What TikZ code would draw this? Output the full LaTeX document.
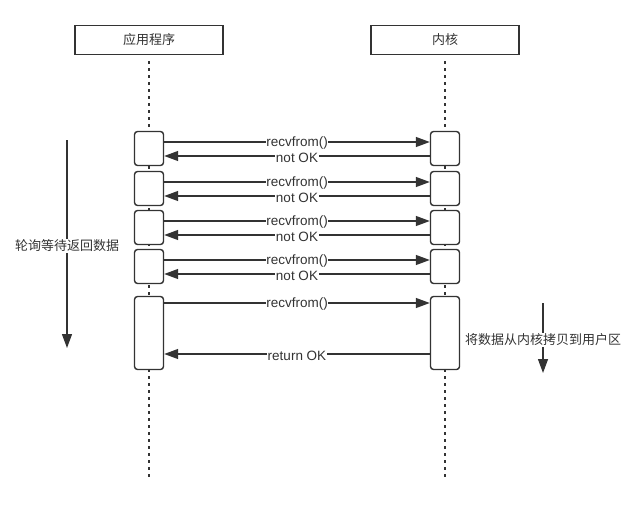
\documentclass[tikz,border=0pt]{standalone}
\usepackage{fontspec}
\setmainfont{Liberation Sans}
\newfontfamily\cjk{Noto Sans CJK SC}
\usetikzlibrary{arrows.meta}
\definecolor{ink}{HTML}{333333}
\tikzset{
  head/.style={draw=ink, line width=1.6pt, fill=white, minimum width=148pt, minimum height=29pt, inner sep=0pt, text=ink, font=\cjk\fontsize{13}{15}\selectfont},
  act/.style={draw=ink, line width=1.4pt, fill=white, rounded corners=3pt, minimum width=29pt, minimum height=34pt, inner sep=0pt},
  life/.style={draw=ink, line width=2.4pt, dash pattern=on 2.4pt off 4.6pt},
  msg/.style={draw=ink, line width=1.3pt, -{Triangle[length=14pt,width=10pt]}},
  lbl/.style={fill=white, inner sep=0.5pt, yshift=-1.5pt, text=ink, font=\fontsize{13.5}{15}\selectfont},
  cjklbl/.style={fill=white, inner sep=0.5pt, yshift=-2pt, text=ink, font=\cjk\fontsize{13}{15}\selectfont}
}
\begin{document}
\begin{tikzpicture}[x=1pt,y=-1pt]
\useasboundingbox (0,0) rectangle (636,506);
\node[head] (app) at (149,40) {应用程序};
\node[head] (kern) at (445,40) {内核};
\coordinate (append) at (149,478);
\coordinate (kernend) at (445,478);
\draw[life] ([yshift=-6pt]app.south) -- (append);
\draw[life] ([yshift=-6pt]kern.south) -- (kernend);
% polling rounds
\foreach \i/\y in {1/148.5,2/188.5,3/227.5,4/266.5} {
  \node[act] (a\i) at (149,\y) {};
  \node[act] (k\i) at (445,\y) {};
  \draw[msg] ([yshift=6.5pt]a\i.east) -- node[lbl]{recvfrom()} ([yshift=6.5pt]k\i.west);
  \draw[msg] ([yshift=-7.5pt]k\i.west) -- node[lbl]{not OK} ([yshift=-7.5pt]a\i.east);
}
% last call
\node[act, minimum height=73pt] (a5) at (149,333) {};
\node[act, minimum height=73pt] (k5) at (445,333) {};
\draw[msg] ([yshift=30pt]a5.east) -- node[lbl]{recvfrom()} ([yshift=30pt]k5.west);
\draw[msg] ([yshift=-21pt]k5.west) -- node[lbl]{return OK} ([yshift=-21pt]a5.east);
% side notes
\coordinate (pollstart) at (67,140);
\coordinate (pollend) at (67,348);
\draw[msg] (pollstart) -- node[cjklbl]{轮询等待返回数据} (pollend);
\coordinate (copystart) at (543,303);
\coordinate (copyend) at (543,373);
\draw[msg] (copystart) -- node[cjklbl]{将数据从内核拷贝到用户区} (copyend);
\end{tikzpicture}
\end{document}
